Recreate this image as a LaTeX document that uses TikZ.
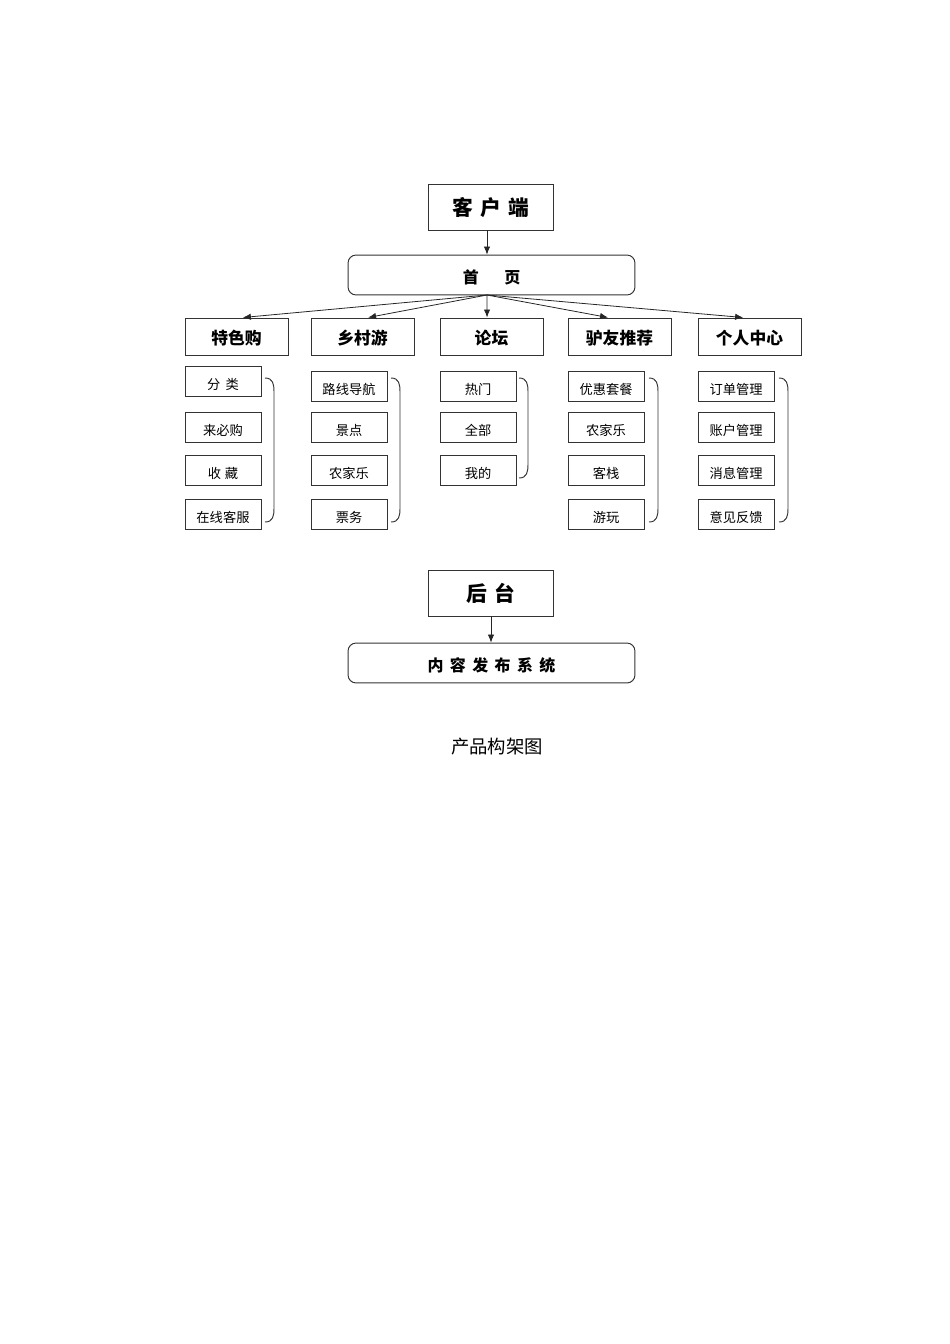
\documentclass[tikz,border=0pt]{standalone}
\usepackage{fontspec}
\newfontfamily\cjk{Noto Sans CJK SC}
\usetikzlibrary{arrows.meta}
\begin{document}
\begin{tikzpicture}[x=0.6263pt, y=-0.6263pt,
        top/.style={rectangle, draw=black!80, line width=0.6pt, minimum width=78.3pt, minimum height=28.8pt, inner sep=0pt, text height=1.1em, text depth=0.05em, font=\cjk\bfseries\fontsize{13}{15}\selectfont},
        page/.style={rectangle, draw=black!80, line width=0.6pt, rounded corners=5pt, minimum width=179.7pt, minimum height=25pt, inner sep=0pt, text height=1.1em, text depth=0.05em, font=\cjk\bfseries\fontsize{10}{12}\selectfont},
        module/.style={rectangle, draw=black!80, line width=0.6pt, minimum width=64.5pt, minimum height=23.2pt, inner sep=0pt, text height=1.1em, text depth=0.05em, font=\cjk\bfseries\fontsize{10.5}{12}\selectfont},
        item/.style={rectangle, draw=black!80, line width=0.6pt, minimum width=47.6pt, minimum height=18.8pt, inner sep=0pt, text height=1.1em, text depth=0.05em, font=\cjk\fontsize{8.3}{10}\selectfont},
        brace/.style={draw=black!80, line width=0.6pt},
        arrow/.style={-{Latex[length=5pt,width=4pt]}, draw=black!85, line width=0.5pt}
    ]
        \useasboundingbox (0,0) rectangle (950,1344);

        % Client side
        \node[top] (client) at (490.5,207) {客\hspace{0.35em}户\hspace{0.35em}端};
        \node[page] (home) at (491.5,275) {首\hspace{1.6em}页};
        \coordinate (hub) at (487,295);
        \draw[arrow] (client.south -| hub) -- (home.north -| hub);

        \node[module] (tsg) at (236.5,336.5) {特色购};
        \node[module] (xcy) at (362.5,336.5) {乡村游};
        \node[module] (lt) at (491.5,336.5) {论坛};
        \node[module] (lytj) at (619.5,336.5) {驴友推荐};
        \node[module] (grzx) at (749.5,336.5) {个人中心};

        \draw[arrow] (hub) -- ([xshift=4pt]tsg.north);
        \draw[arrow] (hub) -- ([xshift=3.5pt]xcy.north);
        \draw[arrow] (hub) -- ([xshift=-2.8pt]lt.north);
        \draw[arrow] (hub) -- ([xshift=-7.2pt]lytj.north);
        \draw[arrow] (hub) -- ([xshift=-4pt]grzx.north);

        % Sub items
        \node[item] (fl) at (223,381) {分\hspace{0.4em}类};
        \node[item] (lbg) at (223,427) {来必购};
        \node[item] (sc) at (223,470) {收\hspace{0.3em}藏};
        \node[item] (zxkf) at (223,514) {在线客服};

        \node[item] (lxdh) at (349,386) {路线导航};
        \node[item] (jd) at (349,427) {景点};
        \node[item] (njl) at (349,470) {农家乐};
        \node[item] (pw) at (349,514) {票务};

        \node[item] (rm) at (478,386) {热门};
        \node[item] (qb) at (478,427) {全部};
        \node[item] (wd) at (478,470) {我的};

        \node[item] (yhtc) at (606,386) {优惠套餐};
        \node[item] (njlb) at (606,427) {农家乐};
        \node[item] (kz) at (606,470) {客栈};
        \node[item] (yw) at (606,514) {游玩};

        \node[item] (ddgl) at (736,386) {订单管理};
        \node[item] (zhgl) at (736,427) {账户管理};
        \node[item] (xxgl) at (736,470) {消息管理};
        \node[item] (yjfk) at (736,514) {意见反馈};

        % Braces
        \draw[brace] (265,378) .. controls (273,378) and (274,384) .. (274,392) -- (274,508) .. controls (274,516) and (273,522) .. (265,522);
        \draw[brace] (391,378) .. controls (399,378) and (400,384) .. (400,392) -- (400,508) .. controls (400,516) and (399,522) .. (391,522);
        \draw[brace] (519,378) .. controls (527,378) and (528,384) .. (528,392) -- (528,464) .. controls (528,472) and (527,478) .. (519,478);
        \draw[brace] (649,378) .. controls (657,378) and (658,384) .. (658,392) -- (658,508) .. controls (658,516) and (657,522) .. (649,522);
        \draw[brace] (779,378) .. controls (787,378) and (788,384) .. (788,392) -- (788,508) .. controls (788,516) and (787,522) .. (779,522);

        % Back end
        \node[top] (admin) at (490.5,593) {后\hspace{0.35em}台};
        \node[page] (cms) at (491.5,663) {内\hspace{0.4em}容\hspace{0.4em}发\hspace{0.4em}布\hspace{0.4em}系\hspace{0.4em}统};
        \draw[arrow] (admin.south -| 491,0) -- (cms.north -| 491,0);

        \node[font=\cjk\fontsize{11.5}{13}\selectfont] (caption) at (497,747) {产品构架图};
    \end{tikzpicture}
\end{document}
